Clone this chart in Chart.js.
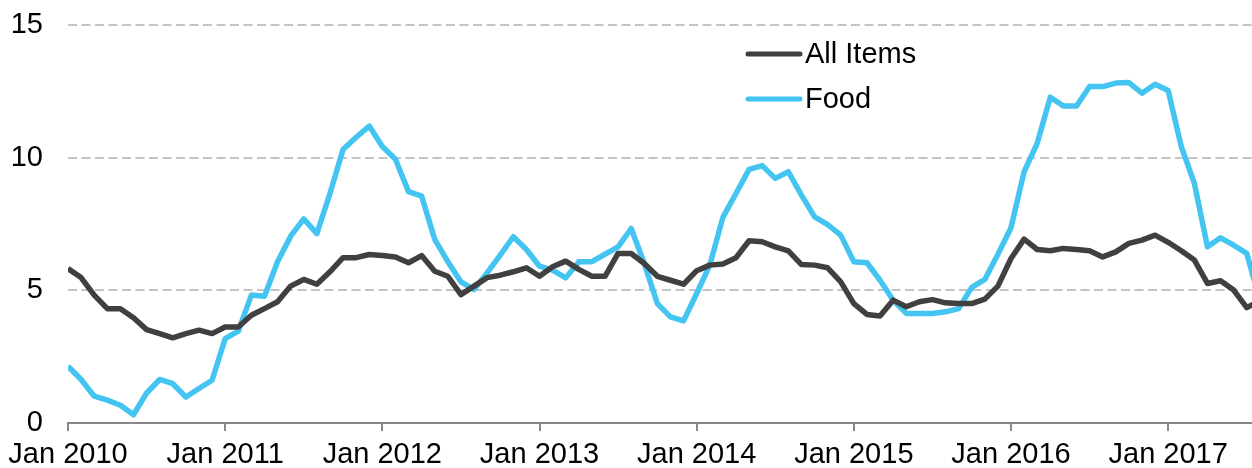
<!DOCTYPE html>
<html>
<head>
<meta charset="utf-8">
<script src="https://cdn.jsdelivr.net/npm/chart.js@4.4.1/dist/chart.umd.min.js"></script>
<style>
html,body{margin:0;padding:0;background:#fff;}
#wrap{width:1252px;height:468px;position:relative;}
</style>
</head>
<body>
<div id="wrap"><canvas id="c" width="1252" height="468"></canvas></div>
<script>
const startYear = 2010;
const seriesNames = ["All Items", "Food"];
const allItems = [
  5.82,5.48,4.82,4.31,4.31,3.97,3.52,3.37,3.21,3.37,3.50,3.37,
  3.62,3.62,4.06,4.31,4.57,5.16,5.41,5.23,5.70,6.23,6.23,6.35,
  6.31,6.26,6.04,6.31,5.72,5.53,4.84,5.16,5.48,5.57,5.70,5.85,
  5.53,5.89,6.10,5.79,5.53,5.53,6.39,6.39,6.01,5.53,5.38,5.23,
  5.74,5.95,5.99,6.23,6.87,6.83,6.64,6.49,5.97,5.95,5.85,5.32,
  4.50,4.09,4.03,4.63,4.38,4.57,4.65,4.53,4.50,4.50,4.67,5.16,
  6.20,6.93,6.54,6.49,6.58,6.54,6.49,6.26,6.45,6.77,6.89,7.08,
  6.81,6.49,6.14,5.26,5.36,5.01,4.35,4.60
];
const food = [
  2.14,1.64,1.01,0.86,0.67,0.31,1.13,1.64,1.48,0.98,1.30,1.61,
  3.18,3.46,4.82,4.78,6.08,7.04,7.69,7.14,8.65,10.31,10.77,11.19,
  10.42,9.94,8.72,8.55,6.92,6.08,5.32,5.03,5.66,6.33,7.02,6.54,
  5.91,5.76,5.47,6.08,6.08,6.36,6.64,7.33,6.01,4.50,4.00,3.85,
  4.88,5.95,7.75,8.65,9.56,9.70,9.22,9.47,8.59,7.77,7.48,7.08,
  6.08,6.04,5.38,4.63,4.13,4.13,4.13,4.19,4.31,5.11,5.41,6.36,
  7.36,9.47,10.54,12.28,11.95,11.95,12.68,12.68,12.81,12.83,12.43,12.77,
  12.53,10.42,9.03,6.64,6.98,6.70,6.39,4.60
];
const xTickMonths = [0,12,24,36,48,60,72,84];
const xTickLabels = ["Jan 2010","Jan 2011","Jan 2012","Jan 2013","Jan 2014","Jan 2015","Jan 2016","Jan 2017"];
const yTicks = [0,5,10,15];

const FONT = "'Liberation Sans', Arial, sans-serif";
const FSIZE = 29;
const colors = ["#404040", "#44C4F1"];

function toPoints(arr){ return arr.map((v,i)=>({x:i,y:v})); }

const legendPlugin = {
  id:'customLegend',
  afterDraw(chart){
    const ctx = chart.ctx;
    ctx.save();
    const rows = [54, 99];
    chart.data.datasets.forEach((ds,i)=>{
      const y = rows[i];
      ctx.strokeStyle = ds.borderColor;
      ctx.lineWidth = 5;
      ctx.lineCap = 'round';
      ctx.beginPath();
      ctx.moveTo(748, y);
      ctx.lineTo(800, y);
      ctx.stroke();
      ctx.fillStyle = '#000';
      ctx.font = FSIZE + "px " + FONT;
      ctx.textBaseline = 'middle';
      ctx.textAlign = 'left';
      ctx.fillText(ds.label, 805, y+1);
    });
    ctx.restore();
  }
};

new Chart(document.getElementById('c'), {
  type:'line',
  data:{
    datasets:[
      {label:seriesNames[0], data:toPoints(allItems), borderColor:colors[0], borderWidth:5.5, pointRadius:0, tension:0, borderJoinStyle:'round', fill:false},
      {label:seriesNames[1], data:toPoints(food), borderColor:colors[1], borderWidth:5.5, pointRadius:0, tension:0, borderJoinStyle:'round', fill:false}
    ]
  },
  options:{
    responsive:false,
    animation:false,
    events:[],
    layout:{padding:{top:25,right:0,left:0,bottom:0}},
    plugins:{legend:{display:false}, tooltip:{enabled:false}},
    scales:{
      x:{
        type:'linear', min:0, max:90.4,
        afterBuildTicks(s){ s.ticks = xTickMonths.map(v=>({value:v})); },
        afterFit(s){ s.height = 45; s.paddingLeft = 0; s.paddingRight = 0; },
        ticks:{
          autoSkip:false, maxRotation:0, padding:7,
          color:'#000', font:{family:FONT, size:FSIZE},
          callback:(v)=>{ const k = xTickMonths.indexOf(v); return k>=0 ? xTickLabels[k] : ''; }
        },
        grid:{drawOnChartArea:false, drawTicks:true, tickLength:8, color:'#898989', lineWidth:2},
        border:{display:true, color:'#898989', width:2}
      },
      y:{
        min:0, max:15,
        afterBuildTicks(s){ s.ticks = yTicks.map(v=>({value:v})); },
        afterFit(s){ s.width = 68; s.paddingTop = 0; s.paddingBottom = 0; },
        ticks:{padding:25, color:'#000', font:{family:FONT, size:FSIZE}},
        grid:{drawTicks:false, color:'#c4c4c4', lineWidth:2},
        border:{display:false, dash:[9,4.5]}
      }
    }
  },
  plugins:[legendPlugin]
});
</script>
</body>
</html>
